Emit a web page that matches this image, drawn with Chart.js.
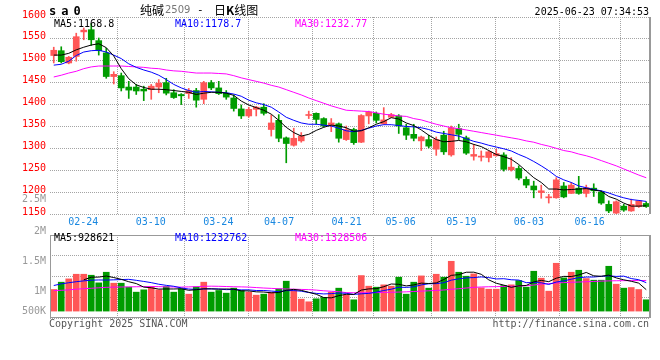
<!DOCTYPE html>
<html>
<head>
<meta charset="utf-8">
<script src="https://cdn.jsdelivr.net/npm/chart.js@4.4.0/dist/chart.umd.min.js"></script>
<style>
body { margin: 0; background: #fff; }
#wrap { position: relative; width: 660px; height: 360px; overflow: hidden; font-family: 'DejaVu Sans Mono', monospace; font-size: 10px; }
canvas { position: absolute; left: 0; }
.t { position: absolute; white-space: nowrap; line-height: 12px; }
</style>
</head>
<body>
<div id="wrap">
  <canvas id="kline" width="660" height="232" style="top:0"></canvas>
  <canvas id="vol" width="660" height="96" style="top:226px"></canvas>
</div>
<script>
// trading days shown on the chart
const dates = [
    '02-24','02-25','02-26','02-27','02-28','03-03','03-04','03-05','03-06','03-07',
    '03-10','03-11','03-12','03-13','03-14','03-17','03-18','03-19','03-20','03-21',
    '03-24','03-25','03-26','03-27','03-28','03-31','04-01','04-02','04-03','04-07',
    '04-08','04-09','04-10','04-11','04-14','04-15','04-16','04-17','04-18','04-21',
    '04-22','04-23','04-24','04-25','04-28','04-29','04-30','05-06','05-07','05-08',
    '05-09','05-12','05-13','05-14','05-15','05-16','05-19','05-20','05-21','05-22',
    '05-23','05-26','05-27','05-28','05-29','05-30','06-03','06-04','06-05','06-06',
    '06-09','06-10','06-11','06-12','06-13','06-16','06-17','06-18','06-19','06-20'
];
const tickIdx = [0, 10, 20, 29, 39, 47, 56, 66, 75];

const open = [
    1512,1523,1495,1510,1566,1571,1546,1518,1464,1466,
    1440,1440,1435,1434,1440,1450,1427,1423,1425,1432,
    1412,1450,1438,1426,1415,1390,1374,1389,1394,1343,
    1364,1324,1307,1317,1375,1380,1368,1354,1356,1320,
    1343,1314,1374,1380,1356,1371,1374,1347,1332,1317,
    1320,1298,1330,1285,1345,1324,1282,1280,1279,1283,
    1285,1251,1254,1229,1214,1199,1187,1187,1214,1197,
    1209,1197,1209,1200,1172,1152,1168,1157,1167,1174
];
const high = [
    1531,1532,1510,1563,1575,1585,1552,1529,1475,1472,
    1453,1446,1442,1446,1457,1460,1434,1425,1437,1437,
    1453,1455,1453,1432,1422,1399,1394,1396,1402,1376,
    1377,1326,1346,1336,1385,1381,1370,1368,1358,1351,
    1346,1377,1385,1383,1393,1380,1377,1355,1355,1328,
    1330,1326,1339,1351,1355,1328,1309,1294,1294,1298,
    1290,1279,1260,1235,1225,1216,1195,1233,1222,1222,
    1236,1216,1219,1203,1180,1180,1172,1184,1181,1178
];
const low = [
    1495,1495,1493,1499,1548,1535,1513,1460,1447,1431,
    1414,1423,1409,1412,1427,1422,1414,1400,1414,1394,
    1402,1434,1423,1412,1385,1368,1371,1374,1376,1328,
    1315,1267,1305,1314,1368,1355,1349,1338,1314,1318,
    1309,1313,1356,1358,1355,1370,1334,1320,1317,1295,
    1301,1284,1286,1282,1320,1286,1273,1271,1269,1282,
    1248,1248,1228,1210,1187,1186,1175,1186,1187,1197,
    1195,1189,1190,1172,1153,1151,1156,1156,1165,1165
];
const close = [
    1524,1498,1508,1555,1570,1548,1523,1464,1469,1438,
    1433,1431,1431,1442,1449,1426,1416,1420,1432,1410,
    1450,1438,1425,1417,1391,1374,1389,1394,1380,1358,
    1323,1311,1323,1328,1377,1366,1351,1358,1323,1343,
    1313,1375,1383,1364,1365,1377,1351,1330,1323,1326,
    1305,1320,1292,1347,1332,1289,1286,1282,1292,1288,
    1252,1257,1232,1216,1205,1203,1189,1228,1189,1216,
    1197,1210,1203,1175,1157,1178,1159,1172,1180,1167
];
const ma5 = [
    1513,1513,1517,1525,1531,1536,1539,1530,1511,1482,
    1459,1445,1439,1435,1435,1434,1432,1430,1428,1423,
    1426,1428,1428,1426,1421,1408,1399,1393,1387,1378,
    1364,1348,1336,1328,1332,1341,1348,1353,1351,1347,
    1339,1340,1347,1355,1361,1370,1367,1358,1352,1342,
    1330,1320,1315,1316,1318,1315,1309,1304,1295,1286,
    1281,1275,1263,1248,1233,1222,1207,1207,1205,1206,
    1207,1208,1205,1202,1190,1184,1175,1168,1168,1168.8
];
const ma10 = [
    1490,1492,1499,1512,1520,1523,1524,1520,1513,1505,
    1493,1485,1479,1474,1467,1457,1446,1438,1432,1428,
    1430,1429,1428,1427,1424,1419,1410,1404,1400,1394,
    1383,1371,1364,1358,1355,1355,1353,1351,1346,1340,
    1338,1341,1346,1351,1354,1354,1352,1350,1349,1347,
    1343,1337,1334,1331,1328,1322,1316,1312,1307,1303,
    1299,1294,1286,1279,1270,1260,1249,1236,1228,1222,
    1214,1210,1206,1203,1198,1192,1187,1183,1181,1178.7
];
const ma30 = [
    1463,1467,1472,1476,1482,1486,1488,1488,1488,1488,
    1487,1486,1485,1483,1482,1479,1477,1476,1474,1472,
    1472,1472,1471,1470,1466,1461,1457,1453,1449,1444,
    1440,1434,1428,1422,1415,1409,1403,1397,1392,1387,
    1386,1385,1384,1381,1378,1376,1374,1373,1368,1365,
    1360,1355,1351,1347,1345,1342,1339,1336,1333,1330,
    1327,1324,1321,1317,1314,1309,1305,1300,1295,1292,
    1287,1283,1278,1272,1266,1260,1253,1246,1239,1232.77
];

const volume = [
    936000,1253000,1397000,1598000,1598000,1555000,1224000,1685000,1210000,1210000,
    1037000,821000,922000,1066000,922000,1066000,821000,965000,734000,1051000,
    1253000,821000,893000,778000,994000,893000,821000,691000,734000,821000,
    965000,1296000,893000,518000,403000,533000,590000,821000,994000,706000,
    490000,1541000,1080000,1037000,1138000,1080000,1469000,734000,1253000,1526000,
    994000,1598000,1469000,2160000,1685000,1512000,1613000,1008000,950000,950000,
    1109000,1138000,1325000,1037000,1728000,1426000,864000,2074000,1440000,1685000,
    1771000,1411000,1339000,1339000,1944000,1166000,994000,1022000,936000,490000
];
const volMa5 = [
    null,null,null,null,1356000,1470000,1474000,1520000,1454000,1377000,
    1273000,1193000,1040000,1011000,954000,959000,959000,968000,902000,927000,
    965000,965000,950000,959000,948000,876000,876000,835000,827000,792000,
    806000,901000,942000,899000,815000,729000,587000,573000,668000,729000,
    720000,910000,962000,971000,1057000,1175000,1161000,1092000,1135000,1212000,
    1195000,1221000,1368000,1549000,1581000,1685000,1688000,1596000,1354000,1207000,
    1126000,1031000,1094000,1112000,1267000,1331000,1276000,1426000,1506000,1498000,
    1567000,1676000,1529000,1509000,1561000,1440000,1356000,1293000,1212000,928621
];
const volMa10 = [
    1109000,1180000,1230000,1275000,1310000,1340000,1350000,1345000,1355000,1367000,
    1377000,1334000,1286000,1233000,1165000,1116000,1076000,1004000,956000,941000,
    962000,962000,959000,930000,938000,920000,920000,893000,893000,870000,
    841000,889000,889000,863000,804000,768000,744000,757000,783000,772000,
    724000,749000,768000,820000,893000,948000,1036000,1027000,1053000,1135000,
    1185000,1191000,1230000,1342000,1397000,1440000,1454000,1482000,1452000,1394000,
    1405000,1359000,1345000,1233000,1237000,1228000,1154000,1260000,1309000,1383000,
    1449000,1476000,1478000,1508000,1529000,1503000,1516000,1411000,1361000,1232762
];
const volMa30 = [
    893000,900000,920000,950000,970000,990000,1010000,1030000,1040000,1045000,
    1050000,1055000,1060000,1065000,1060000,1050000,1045000,1040000,1050000,1060000,
    1075000,1080000,1075000,1065000,1055000,1050000,1040000,1020000,1000000,985000,
    970000,960000,950000,940000,930000,910000,880000,860000,840000,800000,
    795000,795000,795000,800000,810000,815000,825000,835000,850000,865000,
    880000,895000,915000,945000,970000,1000000,1030000,1045000,1055000,1060000,
    1070000,1075000,1085000,1100000,1130000,1170000,1190000,1220000,1235000,1250000,
    1260000,1275000,1285000,1300000,1310000,1315000,1320000,1322000,1325000,1328506
];
const volTickText = ['2.5M', '2M', '1.5M', '1M', '500K'];

const RED = '#ff5656';
const GREEN = '#009c00';
const GRID = '#a4a4a4';
const MONO = { family: 'DejaVu Sans Mono', size: 10 };

const candleColor = close.map((c, i) => c >= open[i] ? RED : GREEN);
const last = arr => arr[arr.length - 1];

// frame around the plot area: solid right edge, optional solid box
const framePlugin = {
    id: 'frame',
    afterDraw(chart, args, opts) {
        const a = chart.chartArea;
        const c = chart.ctx;
        c.save();
        c.strokeStyle = '#999';
        if (opts.solid) {
            c.lineWidth = 1;
            c.strokeRect(a.left + 0.5, a.top + 0.5, a.right - a.left - 1, a.bottom - a.top - 1);
        }
        c.lineWidth = 2;
        c.beginPath();
        c.moveTo(a.right, a.top);
        c.lineTo(a.right, a.bottom);
        c.stroke();
        c.restore();
    }
};

function dateAxis(showLabels) {
    return {
        type: 'linear',
        position: 'bottom',
        min: 0,
        max: dates.length - 1,
        afterBuildTicks: s => { s.ticks = tickIdx.map(v => ({ value: v })); },
        afterFit: s => { s.height = showLabels ? 18 : 0; },
        grid: { color: GRID, drawTicks: false },
        border: { display: false, dash: [1, 1] },
        ticks: {
            display: showLabels, color: '#1a88e0', font: MONO, padding: 2,
            maxRotation: 0, autoSkip: false, callback: v => dates[v]
        }
    };
}

function maLine(data, color) {
    return { type: 'line', data: data, borderColor: color, borderWidth: 1, pointRadius: 0, order: 0 };
}

new Chart(document.getElementById('kline'), {
    type: 'bar',
    data: {
        labels: dates,
        datasets: [
            maLine(ma5, '#000000'),
            maLine(ma10, '#0000ff'),
            maLine(ma30, '#ff00ff'),
            {
                data: open.map((o, i) => [o, close[i]]),
                backgroundColor: candleColor, barThickness: 6, minBarLength: 1, grouped: false, order: 1
            },
            {
                data: low.map((l, i) => [l, high[i]]),
                backgroundColor: candleColor, barThickness: 1, grouped: false, order: 2
            }
        ]
    },
    options: {
        responsive: false,
        animation: false,
        events: [],
        layout: { padding: { top: 17, right: 10, bottom: 0, left: 0 } },
        plugins: { legend: { display: false }, tooltip: { enabled: false }, frame: { solid: false } },
        scales: {
            x: { type: 'category', offset: true, display: false },
            x2: dateAxis(true),
            y: {
                min: 1150,
                max: 1600,
                afterFit: s => { s.width = 50; },
                grid: { color: GRID, drawTicks: false },
                border: { display: false, dash: [1, 1] },
                ticks: {
                    stepSize: 50, color: '#ff0000', font: MONO, padding: 4, labelOffset: -2,
                    callback: v => String(v)
                }
            }
        }
    },
    plugins: [framePlugin]
});

const volGrid = [-300000, 600000, 1500000, 2400000, 3300000];

new Chart(document.getElementById('vol'), {
    type: 'bar',
    data: {
        labels: dates,
        datasets: [
            maLine(volMa5, '#000000'),
            maLine(volMa10, '#0000ff'),
            maLine(volMa30, '#ff00ff'),
            { data: volume, backgroundColor: candleColor, barThickness: 6, grouped: false, order: 1 }
        ]
    },
    options: {
        responsive: false,
        animation: false,
        events: [],
        layout: { padding: { top: 9, right: 10, bottom: 4, left: 0 } },
        plugins: { legend: { display: false }, tooltip: { enabled: false }, frame: { solid: true } },
        scales: {
            x: { type: 'category', offset: true, display: false },
            x2: dateAxis(false),
            y: {
                min: volGrid[0],
                max: volGrid[volGrid.length - 1],
                afterFit: s => { s.width = 50; },
                afterBuildTicks: s => { s.ticks = volGrid.map(v => ({ value: v })); },
                grid: { color: GRID, drawTicks: false },
                border: { display: false, dash: [1, 1] },
                ticks: { display: false }
            }
        }
    },
    plugins: [framePlugin]
});

// text around the charts
const wrap = document.getElementById('wrap');
function addText(html, css) {
    const d = document.createElement('div');
    d.className = 't';
    d.innerHTML = html;
    Object.assign(d.style, css);
    wrap.appendChild(d);
}

addText('sa0', { left: '49px', top: '5px', fontWeight: 'bold', fontSize: '12px', letterSpacing: '5px', color: '#000' });
addText('纯碱', { left: '140px', top: '3px', fontFamily: "'Noto Sans CJK SC'", fontSize: '12px', lineHeight: '14px' });
addText('2509', { left: '165px', top: '4px', fontFamily: "'DejaVu Sans'", fontSize: '10px', color: '#777' });
addText('-', { left: '197px', top: '4px', fontSize: '11px' });
addText('日<b>K</b>线图', { left: '214px', top: '3px', fontFamily: "'Noto Sans CJK SC'", fontSize: '12px', lineHeight: '14px' });
addText('2025-06-23 07:34:53', { right: '11px', top: '6px', color: '#000' });

addText('MA5:' + last(ma5), { left: '54px', top: '18px', color: '#000' });
addText('MA10:' + last(ma10), { left: '175px', top: '18px', color: '#0000ff' });
addText('MA30:' + last(ma30), { left: '295px', top: '18px', color: '#ff00ff' });

addText('MA5:' + last(volMa5), { left: '54px', top: '232px', color: '#000' });
addText('MA10:' + last(volMa10), { left: '175px', top: '232px', color: '#0000ff' });
addText('MA30:' + last(volMa30), { left: '295px', top: '232px', color: '#ff00ff' });

const volTickTop = [193, 225, 255, 285, 305];
volTickText.forEach((txt, i) => {
    addText(txt, { right: '614px', top: volTickTop[i] + 'px', color: '#999' });
});

addText('Copyright 2025 SINA.COM', { left: '49px', top: '318px', color: '#555' });
addText('http://finance.sina.com.cn', { right: '11px', top: '318px', color: '#555' });
</script>
</body>
</html>
